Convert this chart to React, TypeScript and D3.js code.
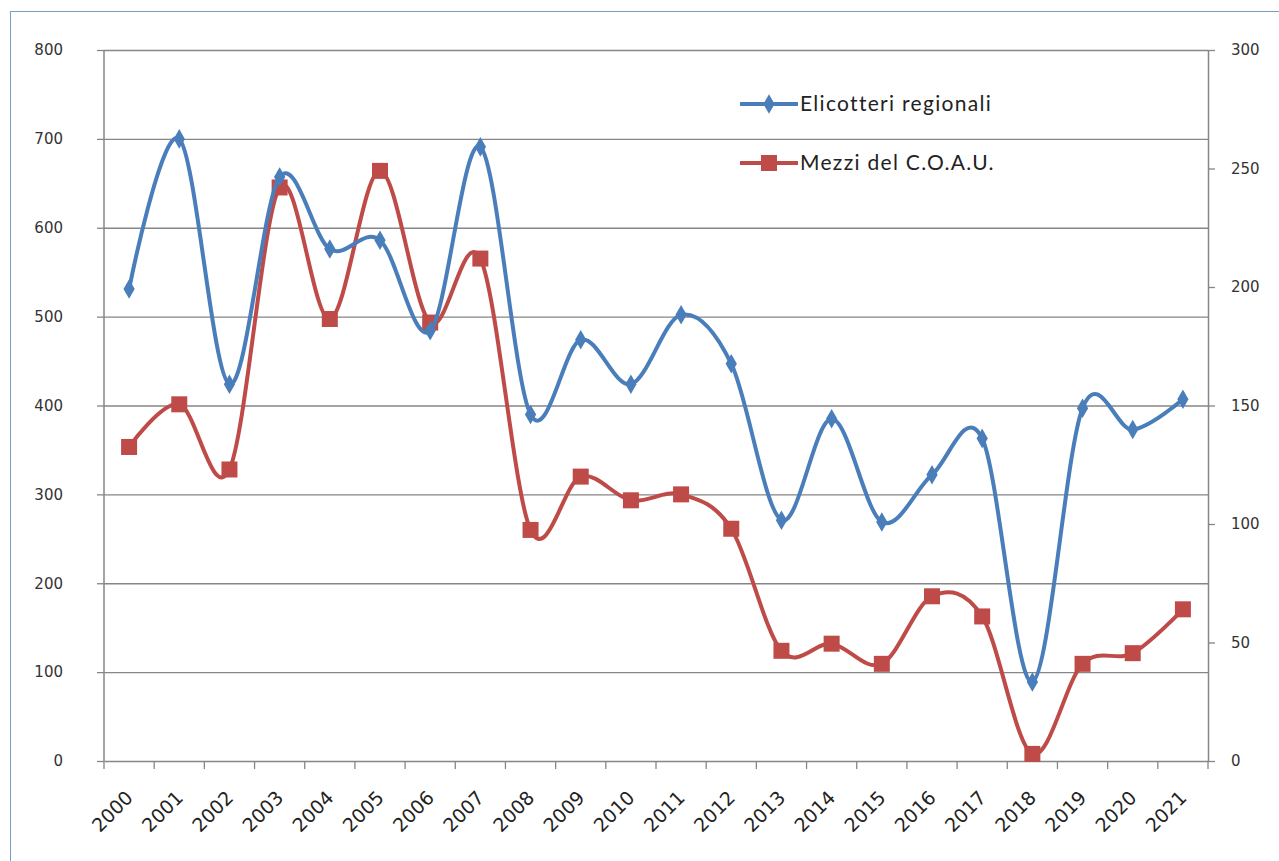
import React, { useEffect, useRef } from 'react';
import * as d3 from 'd3';

const years = [
  '2000', '2001', '2002', '2003', '2004', '2005', '2006', '2007', '2008', '2009', '2010',
  '2011', '2012', '2013', '2014', '2015', '2016', '2017', '2018', '2019', '2020', '2021',
];
// left axis
const elicotteri = [
  531, 700, 424, 657, 576, 586, 484, 691, 390, 474, 424,
  502, 447, 271, 385, 269, 322, 363, 89, 397, 373, 407,
];
// right axis
const mezziCoau = [
  132.5, 150.5, 123, 242, 186.5, 249, 185, 212, 97.5, 120, 110,
  112.5, 98, 46.5, 49.5, 41, 69.5, 61, 3, 41, 45.5, 64,
];
const leftTicks = [0, 100, 200, 300, 400, 500, 600, 700, 800];
const rightTicks = [0, 50, 100, 150, 200, 250, 300];

const BLUE = '#4A7EBB';
const RED = '#BE4B48';

export default function App() {
  const ref = useRef<SVGSVGElement>(null);

  useEffect(() => {
    const svg = d3.select(ref.current);
    svg.selectAll('*').remove();

    const width = 1279;
    const height = 861;
    const margin = { top: 50, right: 71, bottom: 100, left: 104 };
    const x0 = margin.left;
    const x1 = width - margin.right;
    const yBottom = height - margin.bottom;

    svg
      .append('rect')
      .attr('width', width)
      .attr('height', height)
      .attr('fill', '#fff');

    // outer border
    svg
      .append('rect')
      .attr('x', 10.5)
      .attr('y', 11.5)
      .attr('width', width)
      .attr('height', height)
      .attr('fill', 'none')
      .attr('stroke', '#7a9cc6')
      .attr('stroke-width', 1);

    const x = d3.scaleBand().domain(years).range([x0, x1]);
    const yL = d3.scaleLinear().domain([0, 800]).range([yBottom, margin.top]);
    const yR = d3.scaleLinear().domain([0, 300]).range([yBottom, margin.top]);
    const cx = (d: string) => (x(d) as number) + x.bandwidth() / 2;

    // gridlines
    svg
      .append('g')
      .selectAll('line')
      .data(leftTicks.filter((t) => t > 0))
      .join('line')
      .attr('x1', x0)
      .attr('x2', x1)
      .attr('y1', (d) => yL(d) + 0.5)
      .attr('y2', (d) => yL(d) + 0.5)
      .attr('stroke', '#868686')
      .attr('stroke-width', 1.3);

    const tickFont = '"DejaVu Sans", sans-serif';

    // left axis
    const gL = svg
      .append('g')
      .attr('transform', `translate(${x0},0)`)
      .call(d3.axisLeft(yL).tickValues(leftTicks).tickSize(7).tickPadding(34).tickSizeOuter(0));
    // right axis
    const gR = svg
      .append('g')
      .attr('transform', `translate(${x1},0)`)
      .call(d3.axisRight(yR).tickValues(rightTicks).tickSize(7).tickPadding(16).tickSizeOuter(0));
    // bottom axis
    const gB = svg
      .append('g')
      .attr('transform', `translate(0,${yBottom})`)
      .call(d3.axisBottom(x).tickSize(0).tickFormat(() => ''));
    // category boundary ticks
    svg
      .append('g')
      .selectAll('line')
      .data(d3.range(years.length + 1))
      .join('line')
      .attr('x1', (i) => x0 + i * x.bandwidth())
      .attr('x2', (i) => x0 + i * x.bandwidth())
      .attr('y1', yBottom)
      .attr('y2', yBottom + 8)
      .attr('stroke', '#868686')
      .attr('stroke-width', 1.3);

    [gL, gR, gB].forEach((g) => {
      g.select('.domain').attr('stroke', '#868686').attr('stroke-width', 1.5);
      g.selectAll('.tick line').attr('stroke', '#868686').attr('stroke-width', 1.3);
      g.selectAll('.tick text')
        .attr('fill', '#333')
        .style('font-family', tickFont)
        .style('font-size', '15px');
    });
    gL.selectAll('.tick text').attr('text-anchor', 'end');
    gL.select('.domain').attr('d', `M0,${margin.top}V${yBottom}`);

    // year labels
    svg
      .append('g')
      .selectAll('text')
      .data(years)
      .join('text')
      .attr('transform', (d) => `translate(${cx(d) + 5},${yBottom + 38}) rotate(-45)`)
      .attr('text-anchor', 'end')
      .attr('fill', '#222')
      .style('font-family', tickFont)
      .style('font-size', '19px')
      .text((d) => d);

    const curve = d3.curveCardinal.tension(0);

    // red series
    svg
      .append('path')
      .datum(mezziCoau)
      .attr('fill', 'none')
      .attr('stroke', RED)
      .attr('stroke-width', 4)
      .attr(
        'd',
        d3
          .line<number>()
          .curve(curve)
          .x((d, i) => cx(years[i]))
          .y((d) => yR(d))
      );
    svg
      .append('g')
      .selectAll('rect')
      .data(mezziCoau)
      .join('rect')
      .attr('x', (d, i) => cx(years[i]) - 8)
      .attr('y', (d) => yR(d) - 8)
      .attr('width', 16)
      .attr('height', 16)
      .attr('fill', RED);

    // blue series
    svg
      .append('path')
      .datum(elicotteri)
      .attr('fill', 'none')
      .attr('stroke', BLUE)
      .attr('stroke-width', 4)
      .attr(
        'd',
        d3
          .line<number>()
          .curve(curve)
          .x((d, i) => cx(years[i]))
          .y((d) => yL(d))
      );
    const diamond = d3.symbol(d3.symbolDiamond, 110);
    svg
      .append('g')
      .selectAll('path')
      .data(elicotteri)
      .join('path')
      .attr('transform', (d, i) => `translate(${cx(years[i])},${yL(d)})`)
      .attr('d', diamond())
      .attr('fill', BLUE);

    // legend
    const legend = [
      { name: 'Elicotteri regionali', color: BLUE, marker: 'diamond', y: 104 },
      { name: 'Mezzi del C.O.A.U.', color: RED, marker: 'square', y: 163 },
    ];
    const lg = svg.append('g');
    legend.forEach((l) => {
      lg.append('line')
        .attr('x1', 740)
        .attr('x2', 798)
        .attr('y1', l.y)
        .attr('y2', l.y)
        .attr('stroke', l.color)
        .attr('stroke-width', 4);
      if (l.marker === 'diamond') {
        lg.append('path')
          .attr('transform', `translate(769,${l.y})`)
          .attr('d', diamond())
          .attr('fill', l.color);
      } else {
        lg.append('rect')
          .attr('x', 761)
          .attr('y', l.y - 8)
          .attr('width', 16)
          .attr('height', 16)
          .attr('fill', l.color);
      }
      lg.append('text')
        .attr('x', 800)
        .attr('y', l.y + 7)
        .attr('fill', '#222')
        .style('font-family', 'Lato, sans-serif')
        .style('font-size', '21px')
        .style('letter-spacing', '1.3px')
        .text(l.name);
    });
  }, []);

  return (
    <div style={{ position: 'absolute', left: 0, top: 0 }}>
      <svg ref={ref} width={1279} height={861} style={{ display: 'block' }} />
    </div>
  );
}
